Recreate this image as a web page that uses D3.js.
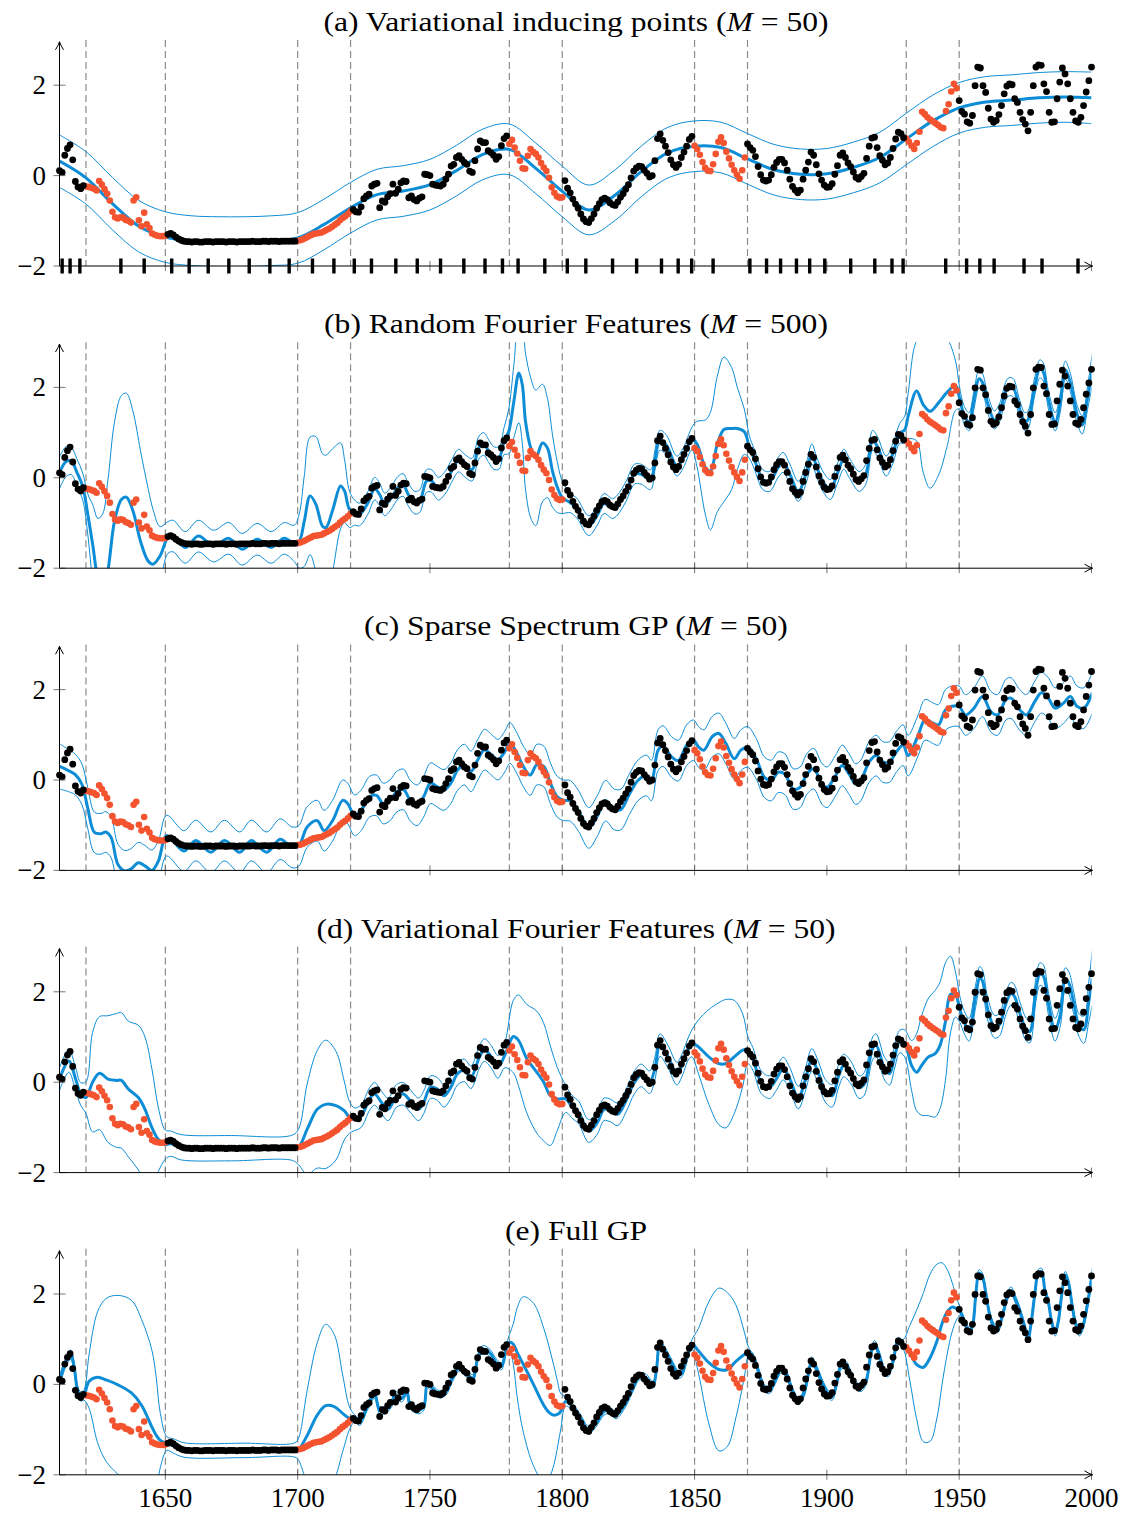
<!DOCTYPE html>
<html><head><meta charset="utf-8">
<script src="https://cdn.jsdelivr.net/npm/d3@7"></script>
<style>
body{margin:0;background:#fff}
svg{display:block}
text{font-family:"Liberation Serif","Times New Roman",serif;fill:#000}
</style>
</head><body>
<svg id="chart" width="1127" height="1516"></svg>
<script>
// ---------------- observations (one value per year) ----------------
const train1610 = [0.11,0.07,0.45,0.60,0.68,0.35,-0.13,-0.25,-0.29,-0.22];
const test1620 = [-0.24,-0.25,-0.27,-0.29,-0.33,-0.12,-0.20,-0.30,-0.40,-0.55,-0.80,-0.92,-0.95,-0.92,-0.93,-0.98,-1.00,-1.04,-0.55,-0.48,-0.99,-1.12,-0.82,-1.08,-1.16,-1.28,-1.31,-1.33,-1.34,-1.34,-1.33];
const train1651 = [-1.30,-1.28,-1.31,-1.36,-1.40,-1.43,-1.45,-1.46,
  -1.46,-1.47,-1.46,-1.46,-1.47,-1.47,-1.46,-1.46,-1.46,-1.47,-1.46,-1.46,-1.46,-1.46,-1.47,-1.46,-1.46,-1.46,-1.47,-1.46,
  -1.46,-1.46,-1.46,-1.46,-1.45,-1.46,-1.46,-1.46,-1.45,-1.45,-1.46,-1.45,-1.45,-1.45,-1.46,-1.45,-1.45,-1.45,-1.45,-1.45,-1.45];
const test1700 = [-1.44,-1.43,-1.41,-1.38,-1.35,-1.32,-1.29,-1.28,-1.27,-1.26,-1.23,-1.20,-1.17,-1.13,-1.09,-1.05,-0.99,-0.94,-0.90,-0.85,-0.79];
const train1721 = [-0.75,-0.80,-0.81,-0.69,-0.51,-0.45,-0.41,-0.23,-0.19,-0.17,
  -0.71,-0.56,-0.59,-0.47,-0.40,-0.19,-0.39,-0.30,-0.16,-0.12,
  -0.13,-0.49,-0.45,-0.53,-0.56,-0.50,-0.47,0.03,0.02,0.00,
  -0.19,-0.21,-0.22,-0.23,-0.19,-0.08,0.03,0.21,0.25,0.40,
  0.44,0.36,0.29,0.25,0.10,0.07,0.33,0.59,0.77,0.73,
  0.73,0.55,0.51,0.45,0.36,0.42,0.66,0.82,0.88];
const test1780 = [0.70,0.79,0.62,0.49,0.33,0.16,0.15,0.44,0.59,0.52,0.48,0.40,0.28,0.18,0.10,-0.05,-0.26,-0.38,-0.46,-0.49,-0.48];
const train1801 = [-0.11,-0.28,-0.38,-0.52,-0.63,-0.72,-0.85,-0.96,-1.02,-1.04,
  -0.95,-0.85,-0.72,-0.62,-0.53,-0.50,-0.53,-0.60,-0.64,-0.66,
  -0.58,-0.48,-0.40,-0.30,-0.20,-0.05,0.10,0.17,0.21,0.20,
  0.12,0.05,-0.03,0.00,0.33,0.82,0.92,0.78,0.65,0.51,
  0.35,0.24,0.18,0.25,0.40,0.52,0.65,0.80,0.87];
const test1850 = [0.66,0.59,0.46,0.30,0.17,0.11,0.10,0.25,0.48,0.75,0.85,0.72,0.53,0.38,0.24,0.12,0.02,-0.07,0.12,0.40];
const train1870 = [0.70,0.62,0.56,0.42,0.20,0.02,-0.10,-0.12,-0.10,0.02,
  0.18,0.29,0.36,0.36,0.28,0.12,-0.08,-0.24,-0.32,-0.38,
  -0.32,-0.08,0.12,0.30,0.52,0.45,0.24,0.04,-0.10,-0.21,
  -0.26,-0.25,-0.18,0.03,0.22,0.45,0.50,0.40,0.28,0.20,
  0.08,-0.04,-0.08,-0.02,0.05,0.38,0.65,0.83,0.85,0.62,
  0.44,0.34,0.24,0.28,0.40,0.60,0.81,0.96,0.93,0.84];
const test1930 = [0.82,0.75,0.66,0.59,0.72,0.97,1.41,1.36,1.29,1.24,1.20,1.16,1.12,1.07,1.05,1.43,1.58,1.86,2.03,1.93];
const train1950 = [1.66,1.42,1.36,1.19,1.16,1.33,1.99,2.40,2.38,1.99,
  1.84,1.49,1.25,1.18,1.22,1.35,1.55,1.81,1.98,2.03,
  2.01,1.70,1.62,1.40,1.24,1.14,0.99,1.40,1.99,2.40,
  2.45,2.44,2.03,1.86,1.40,1.18,1.19,1.70,2.07,2.38,
  2.25,2.03,1.70,1.40,1.21,1.18,1.29,1.55,1.85,2.10,
  2.40];

const trainSegments = [[1610,train1610],[1651,train1651],[1721,train1721],[1801,train1801],[1870,train1870],[1950,train1950]];
const testSegments  = [[1620,test1620],[1700,test1700],[1780,test1780],[1850,test1850],[1930,test1930]];
const gapBounds = [1620,1650,1700,1720,1780,1800,1850,1870,1930,1950];

// ---------------- inducing inputs of panel (a) ----------------
const inducingYears = [1611.0,1614.0,1617.7,1633.2,1642.0,1652.4,1659.0,1666.2,1674.0,1681.7,1689.5,1696.8,
  1705.6,1713.7,1721.4,1727.9,1737.1,1745.2,1754.0,1762.8,1770.8,1777.4,1783.3,1793.4,1801.9,1808.9,
  1819.0,1828.1,1837.5,1843.8,1848.9,1857.0,1870.9,1877.2,1882.5,1888.5,1893.5,1899.2,1909.0,1918.1,
  1924.6,1928.8,1944.9,1952.8,1957.8,1963.2,1974.5,1981.3,1994.9];

// ---------------- posterior: [year, mean, half-width of band] ----------------
const postA = [[1610,0.32,0.58],[1620,-0.05,0.58],[1630,-0.62,0.58],[1640,-1.12,0.57],[1650,-1.36,0.56],[1660,-1.44,0.55],
  [1670,-1.46,0.55],[1680,-1.46,0.55],[1690,-1.44,0.55],[1700,-1.38,0.56],[1710,-1.08,0.56],[1720,-0.71,0.56],
  [1730,-0.42,0.56],[1740,-0.34,0.56],[1750,-0.20,0.56],[1760,0.11,0.56],[1770,0.47,0.56],[1780,0.58,0.56],
  [1790,0.16,0.56],[1800,-0.35,0.56],[1810,-0.76,0.55],[1820,-0.43,0.56],[1830,0.10,0.56],[1840,0.51,0.56],
  [1850,0.65,0.56],[1860,0.62,0.56],[1870,0.37,0.56],[1880,0.13,0.56],[1890,0.03,0.56],[1900,0.04,0.56],
  [1910,0.18,0.56],[1920,0.40,0.56],[1930,0.81,0.57],[1940,1.21,0.57],[1950,1.50,0.56],[1960,1.63,0.56],
  [1970,1.67,0.56],[1980,1.72,0.56],[1990,1.74,0.56],[2000,1.72,0.57]];

const postB = [[1610,0.11,0.35],[1612.5,0.36,0.33],[1614.5,0.37,0.3],[1616.5,0.13,0.3],[1618.8,-0.20,0.3],
  [1620.7,-0.81,0.45],[1622.6,-1.50,0.9],[1624.5,-2.25,1.35],[1626.3,-2.55,1.75],[1628.3,-2.05,2.0],
  [1630.8,-0.96,2.2],[1633.4,-0.48,2.3],[1635.3,-0.43,2.3],[1637.8,-0.74,2.2],[1640.6,-1.40,2.0],
  [1643.5,-1.84,1.6],[1645.4,-1.91,1.2],[1648,-1.73,0.65],[1651,-1.32,0.35],[1653,-1.29,0.35],
  [1657.5,-1.54,0.35],[1662.5,-1.29,0.35],[1668.2,-1.51,0.35],[1674,-1.34,0.35],[1679,-1.58,0.35],
  [1684.7,-1.36,0.35],[1690,-1.54,0.35],[1694.9,-1.34,0.35],[1698.7,-1.45,0.4],[1700.6,-1.40,0.6],
  [1702.5,-0.96,1.0],[1704.7,-0.40,1.3],[1706.9,-0.59,1.5],[1709.4,-1.07,1.6],[1710.7,-1.10,1.6],
  [1713.3,-0.70,1.35],[1716.2,-0.18,0.95],[1717.7,-0.29,0.7],[1719.6,-0.70,0.4],[1721.5,-0.77,0.28],
  [1723.4,-0.81,0.25],[1726.6,-0.55,0.25],[1729.1,-0.24,0.25],[1731,-0.37,0.25],[1732.9,-0.59,0.25],
  [1735.4,-0.44,0.25],[1737.9,-0.22,0.25],[1739.9,-0.16,0.25],[1741.8,-0.37,0.25],[1744.3,-0.55,0.25],
  [1746.2,-0.51,0.25],[1748.7,-0.07,0.25],[1750.6,-0.07,0.25],[1753.2,-0.24,0.25],[1755.7,-0.11,0.25],
  [1758.2,0.15,0.25],[1760.8,0.38,0.25],[1763.3,0.26,0.25],[1765.9,0.18,0.25],[1768.4,0.66,0.25],
  [1770.3,0.75,0.25],[1772.2,0.59,0.25],[1774.1,0.44,0.25],[1776.1,0.44,0.25],[1778,0.81,0.3],
  [1779.8,1.03,0.5],[1781.7,1.69,0.8],[1783.6,2.32,1.1],[1784.9,2.06,1.3],[1786.1,1.25,1.5],
  [1788.1,0.66,1.55],[1790,0.44,1.5],[1792.5,0.77,1.3],[1794.4,0.66,1.1],[1796.3,0.15,0.8],
  [1798.2,-0.22,0.55],[1800.1,-0.44,0.35],[1803,-0.55,0.22],[1805.6,-0.68,0.22],[1810,-1.06,0.22],
  [1813.2,-0.83,0.22],[1815.8,-0.57,0.22],[1819,-0.68,0.22],[1820.9,-0.60,0.22],[1824.1,-0.30,0.22],
  [1827.3,0.08,0.22],[1829.8,0.08,0.22],[1833.4,-0.04,0.22],[1835,0.38,0.22],[1836.9,0.83,0.22],
  [1839.4,0.72,0.22],[1843.3,0.26,0.22],[1845.8,0.45,0.22],[1849,0.87,0.25],[1850.9,0.75,0.5],
  [1854.1,0.23,1.05],[1856,0.15,1.3],[1858.6,0.75,1.5],[1861.1,1.07,1.6],[1864,1.09,1.35],
  [1866.2,1.09,0.9],[1868.8,1.02,0.5],[1870.7,0.68,0.25],[1872.6,0.41,0.22],[1875.8,-0.04,0.22],
  [1878.4,-0.08,0.22],[1881.6,0.23,0.22],[1883.5,0.34,0.22],[1886,0.08,0.22],[1889.2,-0.30,0.22],
  [1892.4,0.15,0.22],[1894.3,0.53,0.22],[1896.2,0.23,0.22],[1898.8,-0.11,0.22],[1901.3,-0.26,0.22],
  [1903.9,0.08,0.22],[1906.4,0.41,0.22],[1908.4,0.23,0.22],[1912.2,-0.08,0.22],[1914.7,0.08,0.22],
  [1917.3,0.83,0.22],[1919.2,0.68,0.22],[1922.4,0.26,0.22],[1924.9,0.53,0.22],[1927.5,0.98,0.22],
  [1929.4,1.06,0.3],[1930.7,1.36,0.5],[1933.9,1.92,1.1],[1936.4,1.62,1.5],[1939,1.47,1.7],
  [1942.2,1.66,1.6],[1945.4,1.89,1.2],[1948.6,2.04,0.55],[1950.1,1.77,0.25],[1951.8,1.40,0.2],
  [1953.7,1.24,0.2],[1955.6,1.73,0.2],[1957.5,2.19,0.2],[1958.8,2.11,0.2],[1960.7,1.66,0.2],
  [1963.3,1.28,0.2],[1965.2,1.43,0.2],[1968.4,2.0,0.2],[1970.3,2.0,0.2],[1972.9,1.51,0.2],
  [1974.8,1.24,0.2],[1976,1.28,0.2],[1978.6,2.04,0.2],[1980.5,2.41,0.2],[1981.8,2.34,0.2],
  [1983.7,1.73,0.2],[1986.3,1.24,0.2],[1988.2,1.66,0.2],[1990.1,2.38,0.2],[1992,2.11,0.2],
  [1994.6,1.40,0.2],[1996.5,1.17,0.2],[1998.4,1.73,0.25],[2000.3,2.41,0.35]];

const postC = [[1610,0.30,0.5],[1613,0.22,0.47],[1616,0.12,0.45],[1618.5,-0.10,0.45],[1620.6,-0.60,0.45],
  [1623.2,-1.16,0.45],[1625.7,-1.19,0.45],[1627.5,-1.15,0.45],[1629.5,-1.27,0.45],[1632.1,-1.87,0.45],
  [1634.6,-2.01,0.45],[1637,-1.97,0.45],[1639.8,-1.83,0.45],[1642.3,-1.90,0.45],[1644.9,-2.0,0.45],
  [1647.4,-1.79,0.45],[1650.5,-1.23,0.45],[1657,-1.57,0.45],[1661.5,-1.34,0.45],[1667.2,-1.60,0.45],
  [1672.3,-1.34,0.45],[1678.1,-1.60,0.45],[1682.5,-1.34,0.45],[1688.3,-1.60,0.45],[1693.4,-1.31,0.45],
  [1697.9,-1.49,0.45],[1700.4,-1.46,0.45],[1703.6,-1.04,0.45],[1707.4,-0.90,0.45],[1710,-1.12,0.45],
  [1713.2,-0.90,0.45],[1717,-0.45,0.45],[1718.9,-0.52,0.45],[1721.5,-0.78,0.45],[1724,-0.67,0.45],
  [1727.2,-0.37,0.45],[1729.8,-0.34,0.45],[1732.3,-0.52,0.45],[1734.9,-0.45,0.45],[1737.4,-0.26,0.45],
  [1740,-0.21,0.45],[1742.5,-0.45,0.45],[1745.1,-0.56,0.45],[1747.6,-0.37,0.45],[1750.2,-0.07,0.45],
  [1752.8,-0.15,0.45],[1755.3,-0.22,0.45],[1757.9,-0.07,0.45],[1760.4,0.22,0.45],[1763,0.34,0.45],
  [1765.5,0.19,0.45],[1768.1,0.45,0.45],[1770.6,0.67,0.45],[1773.2,0.56,0.45],[1775.7,0.45,0.45],
  [1778.3,0.63,0.45],[1780.2,0.82,0.45],[1782.8,0.60,0.45],[1785.3,0.30,0.45],[1787.9,0.11,0.45],
  [1790.4,0.34,0.45],[1793,0.30,0.45],[1795.5,-0.07,0.45],[1798.1,-0.37,0.45],[1800.6,-0.45,0.45],
  [1803,-0.46,0.45],[1806.2,-0.69,0.45],[1810,-1.06,0.45],[1813.2,-0.80,0.45],[1816.4,-0.46,0.45],
  [1819.6,-0.65,0.45],[1822.2,-0.65,0.45],[1825.4,-0.31,0.45],[1828.6,-0.01,0.45],[1831.8,0.10,0.45],
  [1833.7,-0.01,0.45],[1836.2,0.66,0.45],[1838.1,0.75,0.45],[1841.3,0.51,0.45],[1843.9,0.43,0.45],
  [1847,0.77,0.45],[1849.6,0.88,0.45],[1851.5,0.73,0.45],[1853.5,0.66,0.45],[1856.7,0.96,0.45],
  [1859.2,1.03,0.45],[1861.8,0.81,0.45],[1865,0.47,0.45],[1867.5,0.66,0.45],[1870.1,0.73,0.45],
  [1873.3,0.47,0.45],[1876.4,0.06,0.45],[1879,-0.01,0.45],[1881.6,0.17,0.45],[1884.1,0.13,0.45],
  [1887.3,-0.20,0.45],[1889.9,-0.16,0.45],[1892.4,0.13,0.45],[1895,0.25,0.45],[1898.2,-0.09,0.45],
  [1900.1,-0.16,0.45],[1903.3,0.10,0.45],[1905.8,0.32,0.45],[1908.4,0.13,0.45],[1910.9,-0.09,0.45],
  [1912.8,-0.01,0.45],[1916,0.40,0.45],[1918.6,0.54,0.45],[1921.1,0.40,0.45],[1923.7,0.40,0.45],
  [1926.2,0.62,0.45],[1928.8,0.77,0.45],[1930.7,0.54,0.45],[1934.5,0.99,0.45],[1937.1,1.33,0.45],
  [1940.3,1.25,0.45],[1942.2,1.22,0.45],[1944.8,1.55,0.45],[1947.3,1.63,0.45],[1949.9,1.63,0.45],
  [1952.4,1.44,0.45],[1955.6,1.59,0.45],[1958.8,1.85,0.45],[1962,1.51,0.45],[1964.5,1.44,0.45],
  [1967.7,1.78,0.45],[1969.6,1.81,0.45],[1972.9,1.55,0.45],[1975.4,1.44,0.45],[1978.6,1.74,0.45],
  [1981.1,1.93,0.45],[1983.7,1.81,0.45],[1986.2,1.59,0.45],[1989.4,1.70,0.45],[1992,1.85,0.45],
  [1994.5,1.63,0.45],[1997.1,1.59,0.45],[2000.3,1.93,0.45]];

const postD = [[1610,0.07,0.25],[1613.5,0.47,0.25],[1616.1,0.07,0.25],[1618,-0.26,0.25],[1620,-0.34,0.35],
  [1622.5,0.0,1.1],[1625.1,0.20,1.25],[1628.3,0.07,1.4],[1631.5,0.04,1.48],[1633.4,0.04,1.5],
  [1636,-0.15,1.5],[1639.8,-0.34,1.6],[1642.3,-0.60,1.6],[1644.9,-1.0,1.3],[1647.4,-1.27,0.7],
  [1650,-1.38,0.32],[1652,-1.36,0.28],[1656,-1.44,0.28],[1675,-1.46,0.28],[1698,-1.45,0.28],
  [1700.4,-1.43,0.4],[1703.6,-1.04,1.0],[1707.4,-0.60,1.3],[1710.6,-0.49,1.42],[1714.5,-0.52,1.2],
  [1717.6,-0.63,0.65],[1719.6,-0.78,0.35],[1721.5,-0.82,0.25],[1724,-0.75,0.25],[1727.2,-0.37,0.25],
  [1729.1,-0.26,0.25],[1731.7,-0.45,0.25],[1734.2,-0.60,0.25],[1737.4,-0.30,0.25],[1740,-0.26,0.25],
  [1742.5,-0.41,0.25],[1745.7,-0.60,0.25],[1747.6,-0.45,0.25],[1750.2,-0.11,0.25],[1752.8,-0.15,0.25],
  [1755.3,-0.30,0.25],[1757.9,-0.11,0.25],[1760.4,0.19,0.25],[1763,0.26,0.25],[1765.5,0.11,0.25],
  [1768.7,0.56,0.25],[1770.6,0.71,0.25],[1773.2,0.56,0.25],[1775.7,0.34,0.25],[1778.3,0.60,0.28],
  [1781.5,1.01,0.8],[1783.4,0.93,1.0],[1786.6,0.52,1.2],[1790.4,0.22,1.35],[1793,0.0,1.3],
  [1795.5,-0.30,1.1],[1798.1,-0.37,0.7],[1801.3,-0.37,0.3],[1803.8,-0.55,0.25],[1806.2,-0.67,0.25],
  [1810,-1.08,0.25],[1813.2,-0.90,0.25],[1815.8,-0.60,0.25],[1818.3,-0.63,0.25],[1820.9,-0.71,0.25],
  [1824.1,-0.41,0.25],[1827.3,0.0,0.25],[1829.8,0.15,0.25],[1833,0.0,0.25],[1835,0.30,0.25],
  [1836.9,0.82,0.25],[1840,0.56,0.25],[1843.3,0.19,0.25],[1845.2,0.37,0.25],[1847.7,0.75,0.25],
  [1849,0.86,0.3],[1851.5,0.78,0.6],[1855.4,0.56,1.05],[1859.2,0.41,1.35],[1861.8,0.41,1.42],
  [1865,0.56,1.25],[1868.2,0.71,0.8],[1870.1,0.71,0.3],[1872,0.52,0.25],[1875.2,0.0,0.25],
  [1878.4,-0.11,0.25],[1880.9,0.07,0.25],[1883.5,0.30,0.25],[1886,0.07,0.25],[1889.2,-0.34,0.25],
  [1891.8,0.04,0.25],[1894.3,0.49,0.25],[1896.9,0.19,0.25],[1899.4,-0.19,0.25],[1902,-0.30,0.25],
  [1904.5,0.15,0.25],[1906.4,0.37,0.25],[1909,0.22,0.25],[1912.2,-0.11,0.25],[1914.1,-0.04,0.25],
  [1917.3,0.75,0.25],[1918.6,0.82,0.25],[1921.8,0.30,0.25],[1923.7,0.19,0.25],[1925.6,0.56,0.25],
  [1927.5,0.90,0.25],[1929.4,0.86,0.3],[1932,0.37,0.55],[1933.9,0.22,0.85],[1935.8,0.37,1.1],
  [1938.4,0.56,1.3],[1940.9,0.63,1.4],[1942.8,0.82,1.4],[1944.8,1.34,1.3],[1946.7,1.94,0.85],
  [1948.6,1.94,0.5],[1950.1,1.64,0.3],[1951.8,1.34,0.25],[1953.7,1.16,0.25],[1956.2,1.90,0.25],
  [1957.8,2.31,0.25],[1958.8,2.24,0.25],[1960.7,1.64,0.25],[1963.3,1.23,0.25],[1965.2,1.27,0.25],
  [1967.7,1.75,0.25],[1969.6,1.96,0.25],[1970.9,1.90,0.25],[1972.9,1.53,0.25],[1975.4,1.16,0.25],
  [1976.7,1.12,0.25],[1979,2.05,0.25],[1980.5,2.39,0.25],[1981.8,2.35,0.25],[1983.7,1.75,0.25],
  [1986.2,1.16,0.25],[1988.2,1.49,0.25],[1990.1,2.28,0.25],[1991.4,2.2,0.25],[1993.3,1.75,0.25],
  [1995.2,1.27,0.25],[1997.1,1.16,0.3],[1999,1.79,0.45],[2000.3,2.31,0.6]];

const postE = [[1610,0.07,0.12],[1612.3,0.48,0.1],[1614.2,0.66,0.1],[1615.5,0.40,0.1],[1616.8,-0.12,0.1],
  [1618,-0.27,0.1],[1619.3,-0.23,0.12],[1621.2,0.07,0.6],[1624.4,0.16,1.45],[1627.6,0.10,1.8],
  [1632.1,-0.01,1.98],[1637.2,-0.19,2.05],[1641,-0.46,1.9],[1644.9,-0.94,1.7],[1646.5,-1.12,1.3],
  [1648.1,-1.24,0.6],[1650.6,-1.31,0.15],[1653,-1.36,0.16],[1657,-1.45,0.16],[1680,-1.46,0.16],
  [1699,-1.45,0.16],[1700.4,-1.43,0.25],[1703.6,-1.13,1.0],[1707.4,-0.68,1.6],[1710.6,-0.47,1.8],
  [1713.8,-0.49,1.6],[1717,-0.64,0.85],[1719.6,-0.75,0.25],[1721.5,-0.75,0.08],[1723.4,-0.83,0.08],
  [1726.6,-0.46,0.08],[1729.1,-0.23,0.08],[1731,-0.57,0.08],[1733,-0.57,0.08],[1735.5,-0.42,0.08],
  [1736.8,-0.23,0.08],[1739.3,-0.31,0.08],[1741.3,-0.16,0.08],[1742.5,-0.46,0.08],[1745.7,-0.57,0.08],
  [1747.7,-0.49,0.08],[1749,0.0,0.08],[1750.8,-0.08,0.08],[1753.4,-0.22,0.08],[1756,-0.16,0.08],
  [1758.5,0.14,0.08],[1761.1,0.37,0.08],[1763.6,0.25,0.08],[1766.2,0.14,0.08],[1768.1,0.59,0.08],
  [1770,0.78,0.08],[1772.6,0.70,0.08],[1775.1,0.48,0.08],[1777,0.40,0.08],[1779,0.81,0.1],
  [1780.2,0.93,0.2],[1781.5,0.89,0.45],[1783,0.70,1.0],[1785.3,0.44,1.5],[1789.2,-0.01,1.8],
  [1793,-0.46,1.7],[1795,-0.62,1.45],[1796.8,-0.68,1.1],[1798.3,-0.66,0.7],[1799.4,-0.60,0.4],
  [1801.3,-0.38,0.1],[1804.3,-0.53,0.08],[1806.9,-0.75,0.08],[1810,-1.01,0.08],[1812.6,-0.87,0.08],
  [1815.8,-0.60,0.08],[1817.7,-0.57,0.08],[1820.3,-0.68,0.08],[1823.5,-0.46,0.08],[1826.7,-0.08,0.08],
  [1829.2,0.18,0.08],[1831.8,0.14,0.08],[1834.3,-0.01,0.08],[1835.6,0.33,0.08],[1836.9,0.89,0.08],
  [1838.8,0.74,0.08],[1841.3,0.48,0.08],[1843.9,0.22,0.08],[1845.2,0.25,0.08],[1847.1,0.59,0.08],
  [1849,0.89,0.1],[1851.5,0.74,0.5],[1855.4,0.48,1.35],[1859.2,0.33,1.8],[1862.4,0.33,1.7],
  [1865.6,0.51,1.25],[1868.8,0.66,0.5],[1870.4,0.72,0.1],[1872.6,0.55,0.08],[1874.5,0.22,0.08],
  [1876.4,-0.08,0.08],[1878.4,-0.12,0.08],[1880.3,0.07,0.08],[1882.8,0.33,0.08],[1884.7,0.22,0.08],
  [1887.3,-0.19,0.08],[1889.2,-0.37,0.08],[1891.1,-0.23,0.08],[1893,0.22,0.08],[1894.3,0.53,0.08],
  [1896.2,0.33,0.08],[1898.8,-0.04,0.08],[1900.7,-0.23,0.08],[1902,-0.27,0.08],[1903.9,0.07,0.08],
  [1905.2,0.40,0.08],[1907.1,0.44,0.08],[1909,0.22,0.08],[1910.9,-0.01,0.08],[1912.8,-0.08,0.08],
  [1914.8,0.07,0.08],[1916.7,0.70,0.08],[1918,0.89,0.08],[1919.9,0.63,0.08],[1921.8,0.29,0.08],
  [1923.1,0.25,0.08],[1925,0.51,0.08],[1926.9,0.96,0.08],[1928.8,0.89,0.1],[1931.3,0.70,0.6],
  [1933.9,0.44,1.2],[1936.5,0.38,1.65],[1939,0.59,1.85],[1941.6,0.96,1.7],[1943.5,1.34,1.35],
  [1945.4,1.60,0.95],[1947.3,1.71,0.55],[1949.2,1.67,0.22],[1950.5,1.60,0.08],[1951.8,1.41,0.08],
  [1953.7,1.19,0.08],[1955,1.30,0.08],[1956.2,1.93,0.08],[1957.5,2.46,0.08],[1958.8,2.38,0.08],
  [1960.1,2.01,0.08],[1961.6,1.52,0.08],[1963.3,1.26,0.08],[1964.5,1.22,0.08],[1966.5,1.56,0.08],
  [1968.4,1.97,0.08],[1969.6,2.08,0.08],[1970.9,1.93,0.08],[1972.9,1.63,0.08],[1974.8,1.26,0.08],
  [1976,1.00,0.08],[1977.3,1.41,0.08],[1978.6,2.01,0.08],[1979.9,2.46,0.08],[1981.1,2.49,0.08],
  [1982.4,2.08,0.08],[1983.7,1.82,0.08],[1985,1.37,0.08],[1986.3,1.15,0.08],[1987.5,1.41,0.08],
  [1988.8,2.01,0.08],[1990.1,2.42,0.08],[1991.4,2.23,0.08],[1992.6,1.78,0.08],[1993.9,1.37,0.08],
  [1995.4,1.15,0.08],[1996.6,1.26,0.08],[1998.4,1.75,0.1],[2000.3,2.46,0.12]];

// ---------------- labels ----------------
const titlePrefix = ["(a) Variational inducing points (", "(b) Random Fourier Features (", "(c) Sparse Spectrum GP (", "(d) Variational Fourier Features (", "(e) Full GP"];
const titleM = ["50", "500", "50", "50", null];
const yTicks = [-2, 0, 2];
const xTicks = [1650, 1700, 1750, 1800, 1850, 1900, 1950, 2000];
const posteriors = [postA, postB, postC, postD, postE];

// ---------------- drawing ----------------
const BLUE = "#0c8dd6", RED = "#f4532f";
const svg = d3.select("#chart");
const x = d3.scaleLinear().domain([1610, 2000]).range([59.5, 1091.5]);

function expand(segs){ const out=[]; segs.forEach(([s,arr])=>arr.forEach((v,i)=>out.push([s+i,v]))); return out; }
const trainPts = expand(trainSegments), testPts = expand(testSegments);

posteriors.forEach((post, i) => {
  const base = 266 + i*302.2;
  const y = d3.scaleLinear().domain([-2, 3]).range([base, base - 226]);
  const g = svg.append("g");
  const clipId = "clip" + i;
  g.append("clipPath").attr("id", clipId).append("rect")
    .attr("x", x(1610)).attr("y", y(3)).attr("width", x(2000) - x(1610)).attr("height", y(-2) - y(3));

  // dashed gap bounds
  g.selectAll("line.gap").data(gapBounds).join("line")
    .attr("x1", d => x(d)).attr("x2", d => x(d)).attr("y1", y(3)).attr("y2", y(-2))
    .attr("stroke", "#8c8c8c").attr("stroke-width", 1.2).attr("stroke-dasharray", "7,4");

  const cg = g.append("g").attr("clip-path", `url(#${clipId})`);
  const curve = d3.curveCatmullRom.alpha(0.5);
  const lUp = d3.line().x(d => x(d[0])).y(d => y(d[1] + d[2])).curve(curve);
  const lLo = d3.line().x(d => x(d[0])).y(d => y(d[1] - d[2])).curve(curve);
  const lMu = d3.line().x(d => x(d[0])).y(d => y(d[1])).curve(curve);
  cg.append("path").attr("d", lUp(post)).attr("fill", "none").attr("stroke", BLUE).attr("stroke-width", 1);
  cg.append("path").attr("d", lLo(post)).attr("fill", "none").attr("stroke", BLUE).attr("stroke-width", 1);
  cg.append("path").attr("d", lMu(post)).attr("fill", "none").attr("stroke", BLUE).attr("stroke-width", 3);

  // observations
  g.append("g").selectAll("circle").data(testPts).join("circle")
    .attr("cx", d => x(d[0])).attr("cy", d => y(d[1])).attr("r", 3.3).attr("fill", RED);
  g.append("g").selectAll("circle").data(trainPts).join("circle")
    .attr("cx", d => x(d[0])).attr("cy", d => y(d[1])).attr("r", 3.4).attr("fill", "#000");

  // axes
  const ax = g.append("g");
  ax.selectAll("line.xt").data(xTicks).join("line")
    .attr("x1", d => x(d)).attr("x2", d => x(d)).attr("y1", base - 5).attr("y2", base + 5)
    .attr("stroke", "#666").attr("stroke-width", 0.9);
  ax.selectAll("line.yt").data(yTicks).join("line")
    .attr("x1", x(1610) - 6).attr("x2", x(1610) + 6).attr("y1", d => y(d)).attr("y2", d => y(d))
    .attr("stroke", "#666").attr("stroke-width", 0.9);
  const x0 = x(1610), xEnd = x(2000) + 1, yTop = y(2.96);
  ax.append("line").attr("x1", x0).attr("x2", xEnd).attr("y1", base).attr("y2", base).attr("stroke", "#000").attr("stroke-width", 1);
  ax.append("line").attr("x1", x0).attr("x2", x0).attr("y1", base).attr("y2", yTop).attr("stroke", "#000").attr("stroke-width", 1);
  ax.append("path").attr("d", `M${xEnd-8},${base-4}Q${xEnd-3},${base-1} ${xEnd},${base}Q${xEnd-3},${base+1} ${xEnd-8},${base+4}`)
    .attr("fill", "none").attr("stroke", "#000").attr("stroke-width", 1);
  ax.append("path").attr("d", `M${x0-4},${yTop+8}Q${x0-1},${yTop+3} ${x0},${yTop}Q${x0+1},${yTop+3} ${x0+4},${yTop+8}`)
    .attr("fill", "none").attr("stroke", "#000").attr("stroke-width", 1);

  ax.selectAll("text.yl").data(yTicks).join("text")
    .attr("x", 46).attr("y", d => y(d) + 9).attr("text-anchor", "end").attr("font-size", 27)
    .text(d => d < 0 ? "\u2212" + Math.abs(d) : String(d));

  if (i === 4) {
    ax.selectAll("text.xl").data(xTicks).join("text")
      .attr("x", d => x(d)).attr("y", base + 32).attr("text-anchor", "middle").attr("font-size", 27)
      .text(d => String(d));
  }

  // inducing inputs
  if (i === 0) {
    g.append("g").selectAll("rect").data(inducingYears).join("rect")
      .attr("x", d => x(d) - 1.7).attr("y", base - 7.5).attr("width", 3.4).attr("height", 15).attr("fill", "#000");
  }

  // title (Computer-Modern-like width: widen the Times-like glyphs)
  const t = g.append("text").attr("x", 576).attr("y", base - 235).attr("text-anchor", "middle").attr("font-size", 27);
  t.append("tspan").text(titlePrefix[i]);
  if (titleM[i]) {
    t.append("tspan").attr("font-style", "italic").text("M");
    t.append("tspan").text(" = " + titleM[i] + ")");
  }
  const natural = t.node().getComputedTextLength();
  t.attr("textLength", natural * 1.17).attr("lengthAdjust", "spacingAndGlyphs");
});
</script>
</body></html>
